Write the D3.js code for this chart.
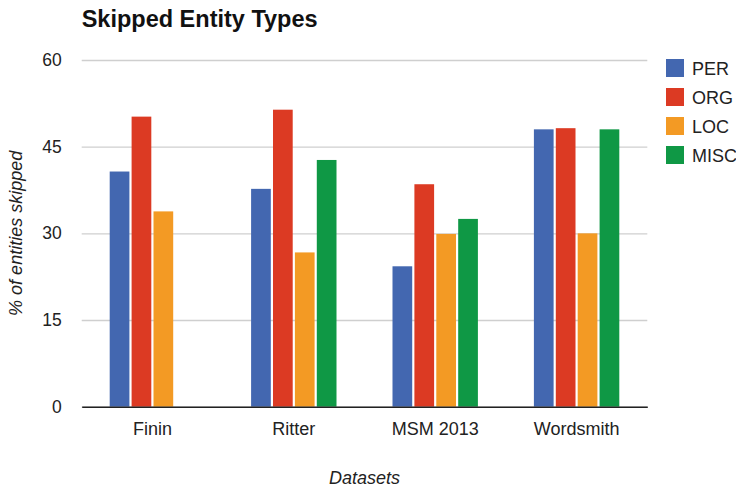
<!DOCTYPE html>
<html>
<head>
<meta charset="utf-8">
<script src="https://cdn.jsdelivr.net/npm/d3@7"></script>
<style>
  html, body { margin: 0; padding: 0; background: #fff; }
  svg { display: block; font-family: "Liberation Sans", Arial, sans-serif; }
</style>
</head>
<body>
<div id="chart"></div>
<script>
// Datasets along the x axis
const datasets = ["Finin", "Ritter", "MSM 2013", "Wordsmith"];
// Entity types (series)
const entityTypes = ["PER", "ORG", "LOC", "MISC"];
// % of entities skipped, per entity type, in dataset order
const perValues  = [40.7, 37.7, 24.3, 48.0];
const orgValues  = [50.2, 51.4, 38.5, 48.2];
const locValues  = [33.8, 26.7, 29.9, 30.0];
const miscValues = [null, 42.7, 32.5, 48.0];
const yTicks = [0, 15, 30, 45, 60];
const seriesColors = ["#4367b0", "#dc3a23", "#f39a24", "#0f9845"];

const seriesValues = [perValues, orgValues, locValues, miscValues];

const W = 736, H = 487;
const margin = { left: 81.7, right: 88.7, top: 60, bottom: 80.3 };
const plotW = W - margin.left - margin.right;
const plotH = H - margin.top - margin.bottom;

const svg = d3.select("#chart").append("svg")
  .attr("width", W).attr("height", H);

const x0 = d3.scaleBand().domain(datasets).range([margin.left, margin.left + plotW]).padding(0);
const groupPad = 28;
const x1 = d3.scaleBand().domain(entityTypes)
  .range([groupPad, x0.bandwidth() - groupPad]).paddingInner(0.1).paddingOuter(0);
const y = d3.scaleLinear().domain([0, 60]).range([margin.top + plotH, margin.top]);
const color = d3.scaleOrdinal().domain(entityTypes).range(seriesColors);

// Horizontal gridlines and y tick labels
const yAxis = d3.axisLeft(y).tickValues(yTicks).tickSize(-plotW).tickPadding(20).tickFormat(d3.format("d"));
const gy = svg.append("g").attr("transform", `translate(${margin.left},0)`).call(yAxis);
gy.select(".domain").remove();
gy.selectAll(".tick line").attr("stroke", "#cfcfcf").attr("stroke-width", 1.3);
gy.selectAll(".tick text").attr("fill", "#222").attr("font-size", 17.5);

// Bars
const rows = datasets.map((d, i) => ({
  dataset: d,
  values: entityTypes.map((k, j) => ({ key: k, value: seriesValues[j][i] }))
    .filter(v => v.value != null)
}));

svg.append("g").selectAll("g")
  .data(rows).join("g")
  .attr("transform", d => `translate(${x0(d.dataset)},0)`)
  .selectAll("rect")
  .data(d => d.values).join("rect")
  .attr("x", d => x1(d.key))
  .attr("y", d => y(d.value))
  .attr("width", x1.bandwidth())
  .attr("height", d => y(0) - y(d.value))
  .attr("fill", d => color(d.key));

// Baseline and category labels
const xAxis = d3.axisBottom(x0).tickSize(0).tickPadding(16);
const gx = svg.append("g").attr("transform", `translate(0,${y(0)})`).call(xAxis);
gx.select(".domain").attr("stroke", "#222").attr("stroke-width", 1.6);
gx.selectAll(".tick text").attr("fill", "#222").attr("font-size", 18);

// Title
svg.append("text")
  .attr("x", margin.left).attr("y", 27)
  .attr("font-size", 23.5).attr("font-weight", "bold").attr("fill", "#111")
  .text("Skipped Entity Types");

// Axis titles
svg.append("text")
  .attr("x", margin.left + plotW / 2).attr("y", 484)
  .attr("text-anchor", "middle").attr("font-size", 18).attr("font-style", "italic").attr("fill", "#222")
  .text("Datasets");

svg.append("text")
  .attr("transform", `translate(22,${margin.top + plotH / 2}) rotate(-90)`)
  .attr("text-anchor", "middle").attr("font-size", 18).attr("font-style", "italic").attr("fill", "#222")
  .text("% of entities skipped");

// Legend
const legend = svg.append("g").attr("transform", "translate(666,59)");
const li = legend.selectAll("g").data(entityTypes).join("g")
  .attr("transform", (d, i) => `translate(0,${i * 29})`);
li.append("rect").attr("width", 18).attr("height", 18).attr("fill", d => color(d));
li.append("text").attr("x", 26).attr("y", 15.5)
  .attr("font-size", 18).attr("fill", "#222").text(d => d);
</script>
</body>
</html>
